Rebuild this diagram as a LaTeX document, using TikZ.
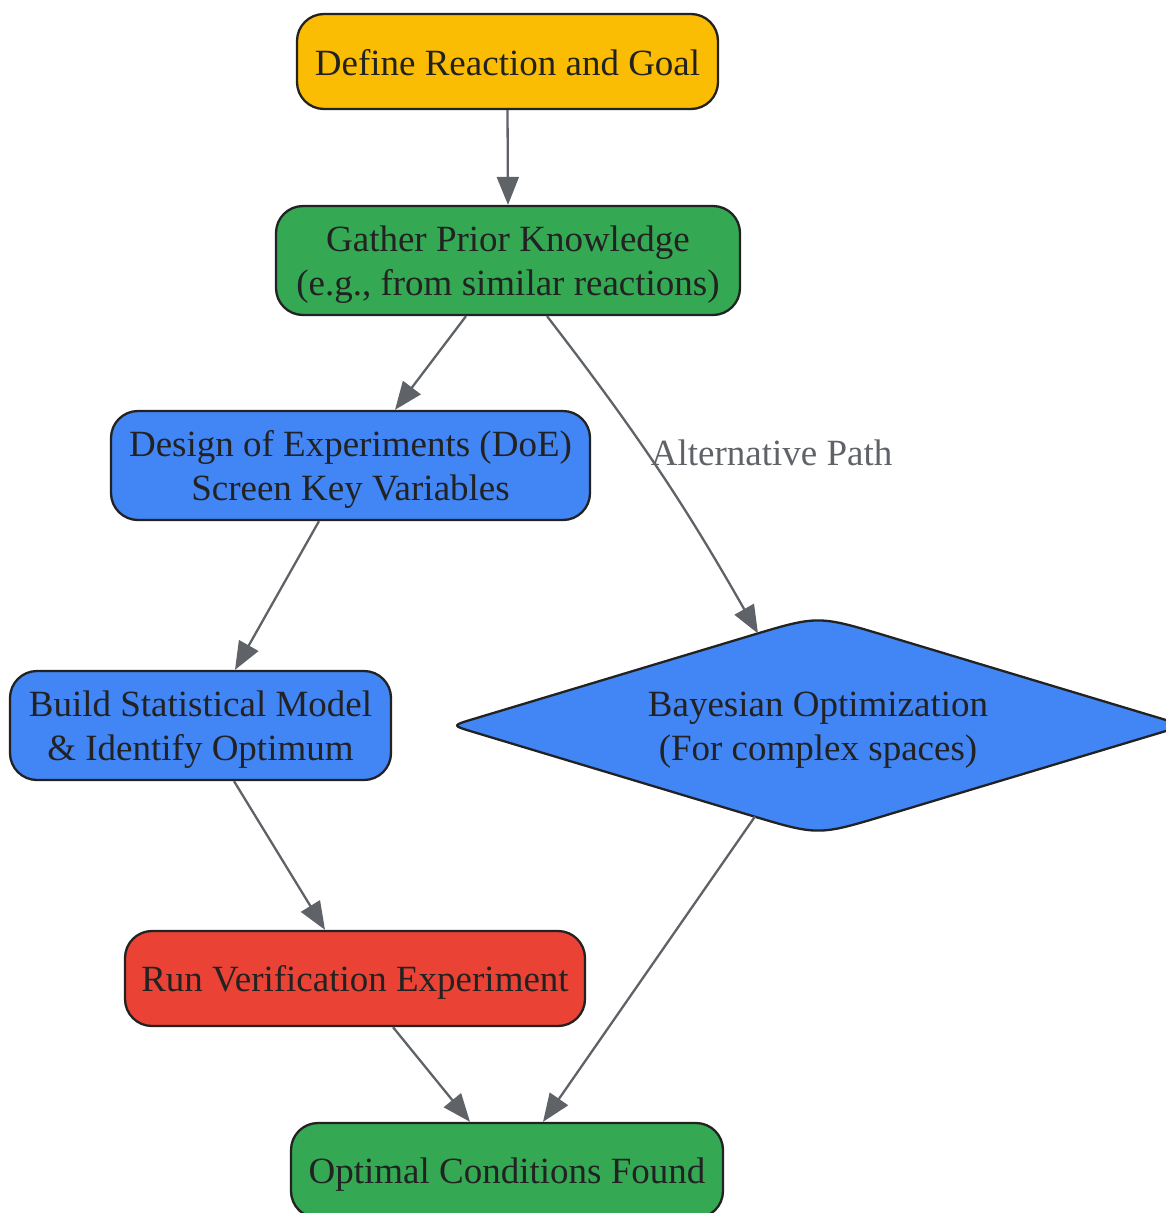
\documentclass[tikz,border=0pt]{standalone}
\usepackage{fontspec}
\setmainfont{Liberation Serif}
\usetikzlibrary{arrows.meta,calc,backgrounds}
\definecolor{cyellow}{HTML}{FBBC04}
\definecolor{cgreen}{HTML}{34A853}
\definecolor{cblue}{HTML}{4285F4}
\definecolor{cred}{HTML}{EA4335}
\definecolor{cborder}{HTML}{222222}
\definecolor{ctext}{HTML}{222222}
\definecolor{cgray}{HTML}{5F6368}
\newcommand\lnstrut{\rule[-6pt]{0pt}{39pt}}
\begin{document}
\begin{tikzpicture}[x=1pt,y=-1pt,
  box/.style={draw=cborder, line width=2.3pt, rounded corners=27pt, inner sep=0pt,
    align=center, text=ctext, font=\fontsize{37}{44}\selectfont},
  plain/.style={inner sep=0pt, align=center, text=ctext, font=\fontsize{37}{44}\selectfont},
  conn/.style={draw=cgray, line width=2.3pt, -{Triangle[length=28pt,width=22pt]}},
  edgelabel/.style={text=cgray, font=\fontsize{37}{44}\selectfont, inner sep=0pt}]
\useasboundingbox (0,0) rectangle (1165,1213);

\node[box, fill=cyellow, minimum width=421pt, minimum height=95pt] (define) at (507.5,61.5) {\lnstrut Define Reaction and Goal};
\node[box, fill=cgreen, minimum width=464pt, minimum height=109pt] (gather) at (508,260.5) {\lnstrut Gather Prior Knowledge\\\lnstrut(e.g., from similar reactions)};
\node[box, fill=cblue, minimum width=479pt, minimum height=109pt] (doe) at (350.5,465.5) {\lnstrut Design of Experiments (DoE)\\\lnstrut Screen Key Variables};
\node[box, fill=cblue, minimum width=381pt, minimum height=109pt] (build) at (200.5,725.5) {\lnstrut Build Statistical Model\\\lnstrut\& Identify Optimum};
\node[plain, minimum width=732pt, minimum height=220pt] (bay) at (818,725.5) {\lnstrut Bayesian Optimization\\\lnstrut(For complex spaces)};
\node[box, fill=cred, minimum width=460pt, minimum height=95pt] (run) at (355,978.5) {\lnstrut Run Verification Experiment};
\node[box, fill=cgreen, minimum width=432pt, minimum height=95pt] (optimal) at (507,1170.5) {\lnstrut Optimal Conditions Found};

\begin{scope}[on background layer]
\draw[draw=cborder, line width=2.3pt, fill=cblue, line join=round]
  ($(bay.west)!22pt!(bay.north)$) -- ($(bay.north)!71pt!(bay.west)$)
  .. controls (bay.north) .. ($(bay.north)!71pt!(bay.east)$)
  -- ($(bay.east)!22pt!(bay.north)$)
  .. controls (bay.east) .. ($(bay.east)!22pt!(bay.south)$)
  -- ($(bay.south)!71pt!(bay.east)$)
  .. controls (bay.south) .. ($(bay.south)!71pt!(bay.west)$)
  -- ($(bay.west)!22pt!(bay.south)$)
  .. controls (bay.west) .. ($(bay.west)!22pt!(bay.north)$) -- cycle;
\end{scope}

\draw[conn] (define.south) -- (gather.north);
\draw[conn] ([xshift=-42pt]gather.south) -- ([xshift=44.5pt]doe.north);
\draw[conn] ([xshift=39pt]gather.south) to[bend left=4]
  node[pos=0.432, anchor=west, xshift=4pt, yshift=-2pt, edgelabel] (alt) {Alternative Path}
  ([xshift=-60pt,yshift=92pt]bay.center);
\draw[conn] ([xshift=-31.5pt]doe.south) -- ([xshift=34.5pt]build.north);
\draw[conn] ([xshift=33.5pt]build.south) -- ([xshift=-30pt]run.north);
\draw[conn] ([xshift=38pt]run.south) -- ([xshift=-37pt]optimal.north);
\draw[conn] ([xshift=-63pt,yshift=-91pt]bay.center) -- ([xshift=36pt]optimal.north);
\end{tikzpicture}
\end{document}
